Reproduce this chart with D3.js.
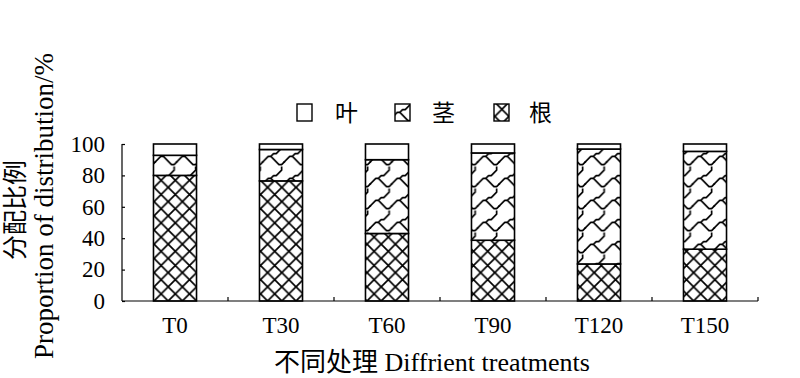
<!DOCTYPE html>
<html>
<head>
<meta charset="utf-8">
<script src="https://cdn.jsdelivr.net/npm/d3@7"></script>
<style>
  html, body { margin: 0; padding: 0; background: #fff; }
  svg { display: block; }
  text { font-family: "Liberation Serif", "Times New Roman", "Noto Sans CJK SC", serif; fill: #000; }
</style>
</head>
<body>
<svg id="chart" width="800" height="378"></svg>
<script>
// ---- data ----
const categories = ["T0", "T30", "T60", "T90", "T120", "T150"];
const rootValues = [80.0, 76.5, 43.0, 38.7, 23.6, 33.0];
const stemValues = [12.8, 20.0, 47.0, 55.6, 73.2, 62.3];
const leafValues = [7.2, 3.5, 10.0, 5.7, 3.2, 4.7];
const seriesKeys = ["root", "stem", "leaf"];
const legendLabels = ["叶", "茎", "根"];      // leaf, stem, root
const legendKeys = ["leaf", "stem", "root"];
const yTicks = [0, 20, 40, 60, 80, 100];
const xTitle = "不同处理 Diffrient treatments";
const yTitleCN = "分配比例";
const yTitleEN = "Proportion of distribution/%";

const rows = categories.map((c, i) => ({
  cat: c, root: rootValues[i], stem: stemValues[i], leaf: leafValues[i]
}));

const svg = d3.select("#chart");
const plot = { left: 122, right: 758, top: 144, bottom: 301 };
const serif = '"Liberation Serif", "Times New Roman", serif';

// ---- patterns ----
const defs = svg.append("defs");
const rw = 14.2;
const pRoot = defs.append("pattern").attr("id", "pat-root")
  .attr("patternUnits", "userSpaceOnUse").attr("width", rw).attr("height", rw)
  .attr("x", 154).attr("y", 301);
pRoot.append("rect").attr("width", rw).attr("height", rw).attr("fill", "#fff");
pRoot.append("path").attr("d", `M-1,-1 L${rw + 1},${rw + 1} M${rw + 1},-1 L-1,${rw + 1}`)
  .attr("stroke", "#000").attr("stroke-width", 1.7).attr("fill", "none");

// shingle-like pattern built on an 8x8 cell grid
const sw = 21.5, sh = 22;
const pStem = defs.append("pattern").attr("id", "pat-stem")
  .attr("patternUnits", "userSpaceOnUse").attr("width", sw).attr("height", sh)
  .attr("x", 154).attr("y", 144);
pStem.append("rect").attr("width", sw).attr("height", sh).attr("fill", "#fff");
const shingle = "M0.5,6.5 L2.5,4.5 L3.5,4.5 L5.5,6.5 L6.5,7.5 L7.5,7.5 L8.5,6.5 " +
                "M3.5,4.5 L4.5,3.5 L5.5,3.5 L7.5,1.5 L7.5,0.5";
const sg = pStem.append("g").attr("transform", `scale(${sw / 8},${sh / 8})`);
[[0, 0], [8, 0], [-8, 0], [0, 8], [0, -8], [8, -8], [-8, 8], [8, 8], [-8, -8]].forEach(o => {
  sg.append("path").attr("d", shingle)
    .attr("transform", `translate(${o[0]},${o[1]})`)
    .attr("stroke", "#000").attr("stroke-width", 0.62).attr("fill", "none")
    .attr("stroke-linejoin", "round").attr("stroke-linecap", "square");
});

const fills = { root: "url(#pat-root)", stem: "url(#pat-stem)", leaf: "#fff" };

// ---- scales ----
const x = d3.scaleBand().domain(categories)
  .range([plot.left, plot.right]).paddingInner(0.594).paddingOuter(0.297);
const y = d3.scaleLinear().domain([0, 100]).range([plot.bottom, plot.top]);

const stacked = d3.stack().keys(seriesKeys)(rows);

// ---- bars ----
const g = svg.append("g");
stacked.forEach(layer => {
  g.selectAll(null).data(layer).enter().append("rect")
    .attr("x", d => x(d.data.cat))
    .attr("width", x.bandwidth())
    .attr("y", d => y(d[1]))
    .attr("height", d => y(d[0]) - y(d[1]))
    .attr("fill", fills[layer.key])
    .attr("stroke", "#000")
    .attr("stroke-width", 1.6);
});

// ---- y axis ----
const yAxis = d3.axisLeft(y).tickValues(yTicks).tickSize(-3).tickPadding(17);
const yg = svg.append("g").attr("transform", `translate(${plot.left},0)`).call(yAxis);
yg.attr("font-family", null).attr("font-size", null);
yg.select(".domain").attr("stroke", "#000").attr("stroke-width", 1.2)
  .attr("d", `M0,${plot.top}V${plot.bottom}`);
yg.selectAll(".tick line").attr("stroke", "#000").attr("stroke-width", 1.2);
yg.selectAll(".tick text").style("font-size", "23px")
  .style("font-family", serif).attr("fill", "#000");

// ---- x axis ----
const step = x.step();
svg.append("line")
  .attr("x1", plot.left).attr("x2", plot.right)
  .attr("y1", plot.bottom).attr("y2", plot.bottom)
  .attr("stroke", "#000").attr("stroke-width", 1.2);
const seps = categories.map(c => x(c) + x.bandwidth() / 2 + step / 2);
svg.selectAll(null).data(seps).enter().append("line")
  .attr("x1", d => d).attr("x2", d => d)
  .attr("y1", plot.bottom).attr("y2", plot.bottom - 4)
  .attr("stroke", "#000").attr("stroke-width", 1.2);
svg.selectAll(null).data(categories).enter().append("text")
  .attr("x", d => x(d) + x.bandwidth() / 2)
  .attr("y", 333)
  .attr("text-anchor", "middle")
  .style("font-size", "23px")
  .style("font-family", serif)
  .text(d => d);

// ---- axis titles ----
svg.append("text")
  .attr("x", 432).attr("y", 371)
  .attr("text-anchor", "middle")
  .style("font-size", "26px")
  .text(xTitle);
svg.append("text")
  .attr("transform", "translate(24,210) rotate(-90)")
  .attr("text-anchor", "middle")
  .style("font-size", "25px")
  .text(yTitleCN);
svg.append("text")
  .attr("transform", "translate(53,206) rotate(-90)")
  .attr("text-anchor", "middle")
  .style("font-size", "27px")
  .style("font-family", serif)
  .text(yTitleEN);

// ---- legend ----
const legendX = [297, 395, 494];
const legendTextX = [335, 432, 529];
legendKeys.forEach((k, i) => {
  svg.append("rect")
    .attr("x", legendX[i]).attr("y", 104)
    .attr("width", 15).attr("height", 17)
    .attr("fill", fills[k])
    .attr("stroke", "#000").attr("stroke-width", 1.4);
  svg.append("text")
    .attr("x", legendTextX[i]).attr("y", 121)
    .style("font-size", "23px")
    .style("font-family", '"Noto Sans CJK SC", sans-serif')
    .text(legendLabels[i]);
});
</script>
</body>
</html>
